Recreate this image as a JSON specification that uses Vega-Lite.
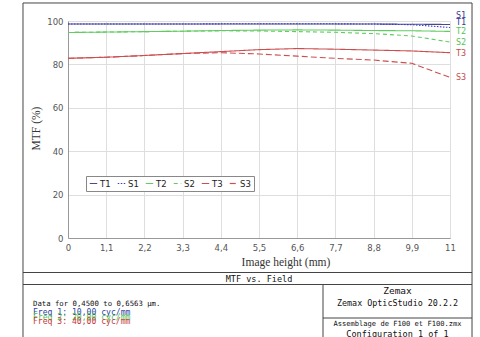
{
  "$schema": "https://vega.github.io/schema/vega-lite/v6.json",
  "width": 382,
  "height": 217,
  "autosize": {"type": "none"},
  "padding": {"left": 68, "top": 21, "right": 30, "bottom": 99},
  "background": "white",
  "config": {"view": {"stroke": null}},
  "datasets": {
    "mtf": [
      {"h": 0, "series": "T1", "mtf": 98.6}, {"h": 1.1, "series": "T1", "mtf": 98.6}, {"h": 2.2, "series": "T1", "mtf": 98.6}, {"h": 3.3, "series": "T1", "mtf": 98.6}, {"h": 4.4, "series": "T1", "mtf": 98.6}, {"h": 5.5, "series": "T1", "mtf": 98.6}, {"h": 6.6, "series": "T1", "mtf": 98.6}, {"h": 7.7, "series": "T1", "mtf": 98.6}, {"h": 8.8, "series": "T1", "mtf": 98.6}, {"h": 9.9, "series": "T1", "mtf": 98.5}, {"h": 11, "series": "T1", "mtf": 98.4},
      {"h": 0, "series": "S1", "mtf": 98.6}, {"h": 1.1, "series": "S1", "mtf": 98.6}, {"h": 2.2, "series": "S1", "mtf": 98.6}, {"h": 3.3, "series": "S1", "mtf": 98.6}, {"h": 4.4, "series": "S1", "mtf": 98.7}, {"h": 5.5, "series": "S1", "mtf": 98.7}, {"h": 6.6, "series": "S1", "mtf": 98.7}, {"h": 7.7, "series": "S1", "mtf": 98.7}, {"h": 8.8, "series": "S1", "mtf": 98.6}, {"h": 9.9, "series": "S1", "mtf": 98.3}, {"h": 11, "series": "S1", "mtf": 97.0},
      {"h": 0, "series": "T2", "mtf": 94.7}, {"h": 1.1, "series": "T2", "mtf": 94.9}, {"h": 2.2, "series": "T2", "mtf": 95.1}, {"h": 3.3, "series": "T2", "mtf": 95.3}, {"h": 4.4, "series": "T2", "mtf": 95.6}, {"h": 5.5, "series": "T2", "mtf": 95.8}, {"h": 6.6, "series": "T2", "mtf": 95.9}, {"h": 7.7, "series": "T2", "mtf": 95.8}, {"h": 8.8, "series": "T2", "mtf": 95.6}, {"h": 9.9, "series": "T2", "mtf": 95.5}, {"h": 11, "series": "T2", "mtf": 95.2},
      {"h": 0, "series": "S2", "mtf": 94.7}, {"h": 1.1, "series": "S2", "mtf": 94.9}, {"h": 2.2, "series": "S2", "mtf": 95.1}, {"h": 3.3, "series": "S2", "mtf": 95.3}, {"h": 4.4, "series": "S2", "mtf": 95.5}, {"h": 5.5, "series": "S2", "mtf": 95.4}, {"h": 6.6, "series": "S2", "mtf": 95.1}, {"h": 7.7, "series": "S2", "mtf": 94.8}, {"h": 8.8, "series": "S2", "mtf": 94.2}, {"h": 9.9, "series": "S2", "mtf": 93.1}, {"h": 11, "series": "S2", "mtf": 90.3},
      {"h": 0, "series": "T3", "mtf": 82.8}, {"h": 1.1, "series": "T3", "mtf": 83.3}, {"h": 2.2, "series": "T3", "mtf": 84.1}, {"h": 3.3, "series": "T3", "mtf": 85.0}, {"h": 4.4, "series": "T3", "mtf": 85.9}, {"h": 5.5, "series": "T3", "mtf": 86.8}, {"h": 6.6, "series": "T3", "mtf": 87.3}, {"h": 7.7, "series": "T3", "mtf": 87.0}, {"h": 8.8, "series": "T3", "mtf": 86.6}, {"h": 9.9, "series": "T3", "mtf": 86.2}, {"h": 11, "series": "T3", "mtf": 85.4},
      {"h": 0, "series": "S3", "mtf": 82.8}, {"h": 1.1, "series": "S3", "mtf": 83.3}, {"h": 2.2, "series": "S3", "mtf": 84.1}, {"h": 3.3, "series": "S3", "mtf": 85.0}, {"h": 4.4, "series": "S3", "mtf": 85.4}, {"h": 5.5, "series": "S3", "mtf": 84.8}, {"h": 6.6, "series": "S3", "mtf": 83.8}, {"h": 7.7, "series": "S3", "mtf": 82.8}, {"h": 8.8, "series": "S3", "mtf": 82.0}, {"h": 9.9, "series": "S3", "mtf": 80.5}, {"h": 11, "series": "S3", "mtf": 74.0}
    ],
    "ends": [
      {"series": "S1", "mtf": 102.8}, {"series": "T1", "mtf": 99.4}, {"series": "T2", "mtf": 95.4},
      {"series": "S2", "mtf": 90.3}, {"series": "T3", "mtf": 85.3}, {"series": "S3", "mtf": 74.0}
    ]
  },
  "layer": [
    {
      "data": {"name": "mtf"},
      "mark": {"type": "line", "strokeWidth": 1.1},
      "encoding": {
        "x": {
          "field": "h", "type": "quantitative",
          "scale": {"domain": [0, 11], "nice": false, "zero": false},
          "axis": {
            "title": "Image height (mm)",
            "values": [0, 1.1, 2.2, 3.3, 4.4, 5.5, 6.6, 7.7, 8.8, 9.9, 11],
            "tickCount": 30,
            "labelExpr": "replace(format(datum.value, '.1~f'), '.', ',')",
            "grid": true, "gridColor": "#dedede", "domainColor": "#999", "ticks": false,
            "labelPadding": 9, "labelBaseline": "middle", "labelFlush": false, "labelOverlap": false,
            "labelFont": "DejaVu Sans", "labelFontSize": 8.5, "labelColor": "#555",
            "titleFont": "Liberation Serif", "titleFontSize": 11.5, "titleFontWeight": "normal", "titleColor": "#333",
            "titleX": 217.5, "titleY": 24, "titleBaseline": "middle", "titleAlign": "center"
          }
        },
        "y": {
          "field": "mtf", "type": "quantitative",
          "scale": {"domain": [0, 100], "nice": false, "zero": false},
          "axis": {
            "title": "MTF (%)",
            "values": [0, 20, 40, 60, 80, 100],
            "tickCount": 30,
            "grid": true, "gridColor": "#dedede", "domainColor": "#999", "ticks": false,
            "labelPadding": 5, "labelBaseline": "middle", "labelFlush": false,
            "labelFont": "DejaVu Sans", "labelFontSize": 8.5, "labelColor": "#555",
            "titleFont": "Liberation Serif", "titleFontSize": 11.5, "titleFontWeight": "normal", "titleColor": "#333",
            "titleX": -32, "titleY": 107, "titleAngle": -90, "titleBaseline": "middle", "titleAlign": "center"
          }
        },
        "color": {
          "field": "series", "type": "nominal",
          "scale": {"domain": ["T1", "S1", "T2", "S2", "T3", "S3"], "range": ["#4a4a86", "#3a3ad0", "#62cc62", "#62cc62", "#cc4f4f", "#cc4f4f"]},
          "legend": {
            "title": null, "orient": "none", "legendX": 18, "legendY": 155, "direction": "horizontal", "columns": 6,
            "symbolType": "stroke", "symbolSize": 56, "symbolStrokeWidth": 1.2, "labelOffset": 2, "columnPadding": 4,
            "labelFont": "DejaVu Sans", "labelFontSize": 8.5, "labelColor": "#222",
            "padding": 3, "strokeColor": "#888", "fillColor": "white"
          }
        },
        "strokeDash": {
          "field": "series", "type": "nominal",
          "scale": {"domain": ["T1", "S1", "T2", "S2", "T3", "S3"], "range": [[1, 0], [1.5, 1.5], [1, 0], [4, 3], [1, 0], [6, 3]]}
        }
      }
    },
    {
      "data": {"name": "ends"},
      "transform": [{"filter": "datum.series === 'S1' || datum.series === 'T1'"}],
      "mark": {"type": "text", "align": "left", "baseline": "middle", "dx": 6, "font": "DejaVu Sans Mono", "fontSize": 8.5, "color": "#3a3a90"},
      "encoding": {"x": {"datum": 11, "type": "quantitative"}, "y": {"field": "mtf", "type": "quantitative"}, "text": {"field": "series"}}
    },
    {
      "data": {"name": "ends"},
      "transform": [{"filter": "datum.series === 'S2' || datum.series === 'T2'"}],
      "mark": {"type": "text", "align": "left", "baseline": "middle", "dx": 6, "font": "DejaVu Sans Mono", "fontSize": 8.5, "color": "#55c455"},
      "encoding": {"x": {"datum": 11, "type": "quantitative"}, "y": {"field": "mtf", "type": "quantitative"}, "text": {"field": "series"}}
    },
    {
      "data": {"name": "ends"},
      "transform": [{"filter": "datum.series === 'S3' || datum.series === 'T3'"}],
      "mark": {"type": "text", "align": "left", "baseline": "middle", "dx": 6, "font": "DejaVu Sans Mono", "fontSize": 8.5, "color": "#c84a4a"},
      "encoding": {"x": {"datum": 11, "type": "quantitative"}, "y": {"field": "mtf", "type": "quantitative"}, "text": {"field": "series"}}
    },
    {
      "data": {"values": [{}]},
      "mark": {"type": "rect", "filled": false, "stroke": "#444", "strokeWidth": 1},
      "encoding": {"x": {"datum": -1.296, "type": "quantitative"}, "x2": {"datum": 11.634}, "y": {"datum": 108.3, "type": "quantitative"}, "y2": {"datum": -50}}
    },
    {
      "data": {"values": [{}]},
      "mark": {"type": "rule", "stroke": "#444", "strokeWidth": 1},
      "encoding": {"x": {"datum": -1.296, "type": "quantitative"}, "x2": {"datum": 11.634}, "y": {"datum": -15.9, "type": "quantitative"}}
    },
    {
      "data": {"values": [{}]},
      "mark": {"type": "rule", "stroke": "#444", "strokeWidth": 1},
      "encoding": {"x": {"datum": -1.296, "type": "quantitative"}, "x2": {"datum": 11.634}, "y": {"datum": -21.43, "type": "quantitative"}}
    },
    {
      "data": {"values": [{}]},
      "mark": {"type": "rule", "stroke": "#444", "strokeWidth": 1},
      "encoding": {"x": {"datum": 7.343, "type": "quantitative"}, "y": {"datum": -21.43, "type": "quantitative"}, "y2": {"datum": -50}}
    },
    {
      "data": {"values": [{}]},
      "mark": {"type": "rule", "stroke": "#444", "strokeWidth": 1},
      "encoding": {"x": {"datum": 7.343, "type": "quantitative"}, "x2": {"datum": 11.634}, "y": {"datum": -36.87, "type": "quantitative"}}
    },
    {
      "data": {"values": [{}]},
      "mark": {"type": "text", "text": "MTF vs. Field", "align": "center", "baseline": "middle", "font": "DejaVu Sans Mono", "fontSize": 8.5, "color": "#111"},
      "encoding": {"x": {"datum": 5.5, "type": "quantitative"}, "y": {"datum": -18.9, "type": "quantitative"}}
    },
    {
      "data": {"values": [{}]},
      "mark": {"type": "text", "text": "Data for 0,4500 to 0,6563 µm.", "align": "left", "baseline": "middle", "font": "DejaVu Sans Mono", "fontSize": 7.3, "color": "#111"},
      "encoding": {"x": {"datum": -1.008, "type": "quantitative"}, "y": {"datum": -30.41, "type": "quantitative"}}
    },
    {
      "data": {"values": [{}]},
      "mark": {"type": "text", "text": "Freq 1:   10,00 cyc/mm", "align": "left", "baseline": "middle", "font": "DejaVu Sans Mono", "fontSize": 8.1, "color": "#2b3fa0"},
      "encoding": {"x": {"datum": -1.008, "type": "quantitative"}, "y": {"datum": -34.56, "type": "quantitative"}}
    },
    {
      "data": {"values": [{}]},
      "mark": {"type": "text", "text": "Freq 2:   20,00 cyc/mm", "align": "left", "baseline": "middle", "font": "DejaVu Sans Mono", "fontSize": 8.1, "color": "#4cc44c"},
      "encoding": {"x": {"datum": -1.008, "type": "quantitative"}, "y": {"datum": -36.64, "type": "quantitative"}}
    },
    {
      "data": {"values": [{}]},
      "mark": {"type": "text", "text": "Freq 3:   40,00 cyc/mm", "align": "left", "baseline": "middle", "font": "DejaVu Sans Mono", "fontSize": 8.1, "color": "#c83a3a"},
      "encoding": {"x": {"datum": -1.008, "type": "quantitative"}, "y": {"datum": -38.71, "type": "quantitative"}}
    },
    {
      "data": {"values": [{}]},
      "mark": {"type": "text", "text": "Zemax", "align": "center", "baseline": "middle", "font": "DejaVu Sans Mono", "fontSize": 9.5, "color": "#111"},
      "encoding": {"x": {"datum": 9.488, "type": "quantitative"}, "y": {"datum": -24.2, "type": "quantitative"}}
    },
    {
      "data": {"values": [{}]},
      "mark": {"type": "text", "text": "Zemax OpticStudio 20.2.2", "align": "center", "baseline": "middle", "font": "DejaVu Sans Mono", "fontSize": 8.4, "color": "#111"},
      "encoding": {"x": {"datum": 9.488, "type": "quantitative"}, "y": {"datum": -30.18, "type": "quantitative"}}
    },
    {
      "data": {"values": [{}]},
      "mark": {"type": "text", "text": "Assemblage de F100 et F100.zmx", "align": "center", "baseline": "middle", "font": "DejaVu Sans Mono", "fontSize": 7.1, "color": "#111"},
      "encoding": {"x": {"datum": 9.488, "type": "quantitative"}, "y": {"datum": -39.63, "type": "quantitative"}}
    },
    {
      "data": {"values": [{}]},
      "mark": {"type": "text", "text": "Configuration 1 of 1", "align": "center", "baseline": "middle", "font": "DejaVu Sans Mono", "fontSize": 8.5, "color": "#111"},
      "encoding": {"x": {"datum": 9.488, "type": "quantitative"}, "y": {"datum": -44.01, "type": "quantitative"}}
    }
  ]
}
